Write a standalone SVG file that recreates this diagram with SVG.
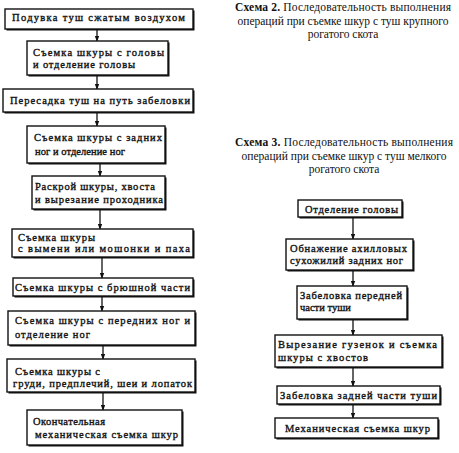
<svg xmlns="http://www.w3.org/2000/svg" width="459" height="453" viewBox="0 0 459 453">
<defs>
<style>
.sh{fill:#111}
.bx{fill:#fff;stroke:#111;stroke-width:1.4}
.t{font-family:"Liberation Serif","Times New Roman",serif;font-size:10.5px;fill:#111;stroke:#111;stroke-width:0.35}
.cap{font-family:"Liberation Serif","Times New Roman",serif;font-size:11.5px;fill:#111;text-anchor:middle}
.cb{font-weight:bold}
.ln{stroke:#111;stroke-width:1.3;fill:none}
</style>
<marker id="ah" viewBox="0 0 8 8" refX="7" refY="4" markerWidth="6" markerHeight="6" markerUnits="userSpaceOnUse" orient="auto">
<path d="M0,1 L8,4 L0,7 Z" fill="#111"/>
</marker>
</defs>
<rect width="459" height="453" fill="#fff"/>

<g id="caption2">
<text class="cap" x="343" y="11" textLength="216" lengthAdjust="spacing"><tspan class="cb">Схема 2.</tspan> Последовательность выполнения</text>
<text class="cap" x="343" y="24.5">операций при съемке шкур с туш крупного</text>
<text class="cap" x="343" y="38">рогатого скота</text>
</g>
<g id="caption3">
<text class="cap" x="344" y="146" textLength="218" lengthAdjust="spacing"><tspan class="cb">Схема 3.</tspan> Последовательность выполнения</text>
<text class="cap" x="344" y="159.5">операций при съемке шкур с туш мелкого</text>
<text class="cap" x="344" y="173">рогатого скота</text>
</g>

<g id="connectors">
<line class="ln" x1="97" y1="29" x2="97" y2="41" marker-end="url(#ah)"/>
<line class="ln" x1="97" y1="75" x2="97" y2="89" marker-end="url(#ah)"/>
<line class="ln" x1="97" y1="112" x2="97" y2="126" marker-end="url(#ah)"/>
<line class="ln" x1="100" y1="163" x2="100" y2="176" marker-end="url(#ah)"/>
<line class="ln" x1="100" y1="209" x2="100" y2="229" marker-end="url(#ah)"/>
<line class="ln" x1="102" y1="257" x2="102" y2="278" marker-end="url(#ah)"/>
<line class="ln" x1="102" y1="296" x2="102" y2="311" marker-end="url(#ah)"/>
<line class="ln" x1="103" y1="345" x2="103" y2="359" marker-end="url(#ah)"/>
<line class="ln" x1="103" y1="392" x2="103" y2="410" marker-end="url(#ah)"/>
<line class="ln" x1="353" y1="217" x2="353" y2="239" marker-end="url(#ah)"/>
<line class="ln" x1="353" y1="270" x2="353" y2="286" marker-end="url(#ah)"/>
<line class="ln" x1="353" y1="319" x2="353" y2="335" marker-end="url(#ah)"/>
<line class="ln" x1="353" y1="367" x2="353" y2="386" marker-end="url(#ah)"/>
<line class="ln" x1="353" y1="404" x2="353" y2="418" marker-end="url(#ah)"/>
</g>

<g id="L1"><rect class="sh" x="6.5" y="10.5" width="188" height="20"/><rect class="bx" x="5" y="9" width="188" height="20"/>
<text class="t" x="12" y="21" textLength="173" lengthAdjust="spacing">Подувка туш сжатым воздухом</text></g>
<g id="L2"><rect class="sh" x="28.5" y="42.5" width="141" height="34"/><rect class="bx" x="27" y="41" width="141" height="34"/>
<text class="t" x="33" y="56" textLength="131" lengthAdjust="spacing">Съемка шкуры с головы</text>
<text class="t" x="33" y="68" textLength="102" lengthAdjust="spacing">и отделение головы</text></g>
<g id="L3"><rect class="sh" x="4.5" y="90.5" width="190" height="23"/><rect class="bx" x="3" y="89" width="190" height="23"/>
<text class="t" x="10" y="104" textLength="180" lengthAdjust="spacing">Пересадка туш на путь забеловки</text></g>
<g id="L4"><rect class="sh" x="28.5" y="127.5" width="138" height="37"/><rect class="bx" x="27" y="126" width="138" height="37"/>
<text class="t" x="34" y="141" textLength="128" lengthAdjust="spacing">Съемка шкуры с задних</text>
<text class="t" x="35" y="155" textLength="90" lengthAdjust="spacing">ног и отделение ног</text></g>
<g id="L5"><rect class="sh" x="33.5" y="177.5" width="133" height="33"/><rect class="bx" x="32" y="176" width="133" height="33"/>
<text class="t" x="35" y="190" textLength="120" lengthAdjust="spacing">Раскрой шкуры, хвоста</text>
<text class="t" x="35" y="203" textLength="128" lengthAdjust="spacing">и вырезание проходника</text></g>
<g id="L6"><rect class="sh" x="13.5" y="230.5" width="181" height="28"/><rect class="bx" x="12" y="229" width="181" height="28"/>
<text class="t" x="18" y="241" textLength="77" lengthAdjust="spacing">Съемка шкуры</text>
<text class="t" x="18" y="252" textLength="172" lengthAdjust="spacing">с вымени или мошонки и паха</text></g>
<g id="L7"><rect class="sh" x="14.5" y="279.5" width="180" height="18"/><rect class="bx" x="13" y="278" width="180" height="18"/>
<text class="t" x="15" y="290.5" textLength="175" lengthAdjust="spacing">Съемка шкуры с брюшной части</text></g>
<g id="L8"><rect class="sh" x="9.5" y="312.5" width="187" height="34"/><rect class="bx" x="8" y="311" width="187" height="34"/>
<text class="t" x="15" y="324" textLength="175" lengthAdjust="spacing">Съемка шкуры с передних ног и</text>
<text class="t" x="15" y="338" textLength="75" lengthAdjust="spacing">отделение ног</text></g>
<g id="L9"><rect class="sh" x="8.5" y="360.5" width="188" height="33"/><rect class="bx" x="7" y="359" width="188" height="33"/>
<text class="t" x="15" y="375" textLength="85" lengthAdjust="spacing">Съемка шкуры с</text>
<text class="t" x="13" y="387" textLength="179" lengthAdjust="spacing">груди, предплечий, шеи и лопаток</text></g>
<g id="L10"><rect class="sh" x="28.5" y="411.5" width="155" height="35"/><rect class="bx" x="27" y="410" width="155" height="35"/>
<text class="t" x="33" y="425" textLength="72" lengthAdjust="spacing">Окончательная</text>
<text class="t" x="35" y="438" textLength="143" lengthAdjust="spacing">механическая съемка шкур</text></g>

<g id="R1"><rect class="sh" x="299.5" y="201.5" width="104" height="17"/><rect class="bx" x="298" y="200" width="104" height="17"/>
<text class="t" x="305" y="213" textLength="93" lengthAdjust="spacing">Отделение головы</text></g>
<g id="R2"><rect class="sh" x="287.5" y="240.5" width="127" height="31"/><rect class="bx" x="286" y="239" width="127" height="31"/>
<text class="t" x="290" y="252" textLength="117" lengthAdjust="spacing">Обнажение ахилловых</text>
<text class="t" x="290" y="264" textLength="113" lengthAdjust="spacing">сухожилий задних ног</text></g>
<g id="R3"><rect class="sh" x="298.5" y="287.5" width="110" height="33"/><rect class="bx" x="297" y="286" width="110" height="33"/>
<text class="t" x="300" y="299" textLength="102" lengthAdjust="spacing">Забеловка передней</text>
<text class="t" x="300" y="311">части туши</text></g>
<g id="R4"><rect class="sh" x="276.5" y="336.5" width="167" height="32"/><rect class="bx" x="275" y="335" width="167" height="32"/>
<text class="t" x="278" y="348" textLength="159" lengthAdjust="spacing">Вырезание гузенок и съемка</text>
<text class="t" x="278" y="361" textLength="90" lengthAdjust="spacing">шкуры с хвостов</text></g>
<g id="R5"><rect class="sh" x="278.5" y="387.5" width="163" height="18"/><rect class="bx" x="277" y="386" width="163" height="18"/>
<text class="t" x="280" y="398.5" textLength="157" lengthAdjust="spacing">Забеловка задней части туши</text></g>
<g id="R6"><rect class="sh" x="276.5" y="419.5" width="163" height="20"/><rect class="bx" x="275" y="418" width="163" height="20"/>
<text class="t" x="285" y="432" textLength="145" lengthAdjust="spacing">Механическая съемка шкур</text></g>
</svg>
